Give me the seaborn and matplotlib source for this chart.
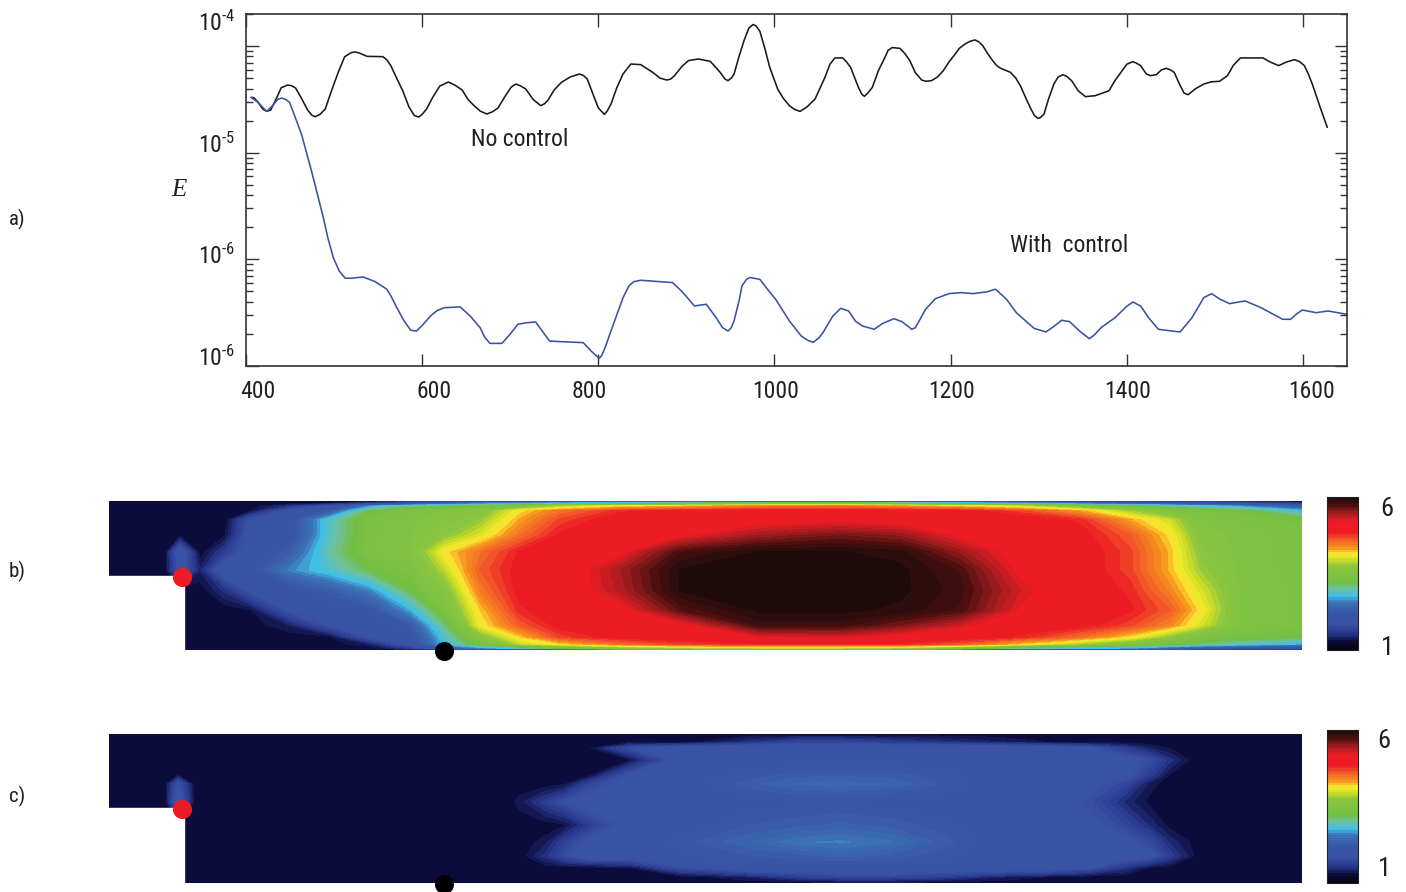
"""
Energy history with and without control, plus the two field maps below it
"""

import numpy as np
import matplotlib
matplotlib.use('Agg')
import matplotlib.pyplot as plt
import seaborn as sns
from matplotlib.cm import ScalarMappable
from matplotlib.colors import LinearSegmentedColormap, Normalize
from matplotlib.patches import Rectangle
from matplotlib.ticker import NullFormatter
from matplotlib.transforms import ScaledTranslation

# panel a: values (time, log10 of E)
no_control = [
    (405.8, -4.481), (409, -4.484), (414, -4.53), (419, -4.59), (423.4, -4.612), (428, -4.60), (434, -4.50),
    (440, -4.39), (447.3, -4.365), (452, -4.372), (456.3, -4.393), (463, -4.49), (470, -4.60), (475, -4.65),
    (478.8, -4.662), (484, -4.64), (490, -4.59), (497, -4.42), (505, -4.24), (512, -4.10), (519.4, -4.061),
    (524, -4.055), (528.4, -4.064), (537.4, -4.096), (555.4, -4.099), (560, -4.13), (564.4, -4.183), (571, -4.30),
    (577.9, -4.418), (585, -4.57), (591, -4.65), (596, -4.665), (600, -4.64), (605, -4.59), (612, -4.48),
    (620, -4.375), (629.7, -4.337), (637, -4.365), (645.5, -4.412), (652, -4.50), (659, -4.559), (666, -4.61),
    (673.4, -4.637), (680, -4.615), (686, -4.581), (695, -4.46), (701, -4.385), (706.3, -4.356), (711, -4.37),
    (717.6, -4.402), (726, -4.50), (734.7, -4.559), (739, -4.54), (742.4, -4.512), (750, -4.41), (758.1, -4.340),
    (768, -4.29), (778.4, -4.262), (783, -4.275), (787.4, -4.309), (793, -4.43), (800, -4.58), (806.8, -4.640),
    (810, -4.61), (814.4, -4.543), (821, -4.39), (828, -4.262), (837, -4.168), (848.2, -4.174), (861.7, -4.246),
    (870, -4.30), (877.5, -4.318), (882, -4.31), (886.5, -4.277), (895, -4.19), (902.3, -4.136), (913.5, -4.121),
    (927.1, -4.143), (938.3, -4.246), (944, -4.31), (947.3, -4.324), (951, -4.30), (954.1, -4.262), (960, -4.09),
    (965.4, -3.949), (971, -3.83), (975.7, -3.798), (979, -3.81), (983.4, -3.861), (989, -4.02), (994.6, -4.199),
    (1003.6, -4.402), (1010, -4.49), (1017, -4.559), (1023, -4.595), (1029.1, -4.612), (1037, -4.57),
    (1046.1, -4.496), (1052, -4.39), (1057.3, -4.293), (1063, -4.17), (1068.5, -4.111), (1077.5, -4.111),
    (1082, -4.15), (1086.4, -4.199), (1095, -4.38), (1099, -4.45), (1102.1, -4.471), (1106, -4.44),
    (1111.1, -4.387), (1118, -4.23), (1124.5, -4.121), (1129, -4.04), (1133.5, -4.014), (1142.4, -4.021),
    (1148, -4.07), (1153.6, -4.136), (1160, -4.25), (1167.1, -4.318), (1172, -4.33), (1178.3, -4.324),
    (1185, -4.29), (1191.7, -4.230), (1198, -4.15), (1205.2, -4.074), (1210, -4.02), (1216.4, -3.980),
    (1222, -3.955), (1227.6, -3.942), (1232, -3.96), (1236.5, -3.996), (1242, -4.07), (1247.7, -4.136),
    (1252, -4.18), (1256.7, -4.208), (1267.9, -4.246), (1274, -4.30), (1279.1, -4.371), (1285, -4.48),
    (1290.3, -4.575), (1295, -4.65), (1299.2, -4.678), (1302, -4.67), (1306, -4.637), (1311, -4.50),
    (1317.2, -4.356), (1322, -4.29), (1327.5, -4.268), (1332, -4.285), (1337.3, -4.324), (1345, -4.42),
    (1353, -4.474), (1364.2, -4.465), (1379.9, -4.418), (1386, -4.33), (1393.3, -4.246), (1400, -4.17),
    (1406.8, -4.146), (1411, -4.16), (1415.7, -4.183), (1422, -4.26), (1426.9, -4.277), (1433.6, -4.268),
    (1439, -4.225), (1444.8, -4.208), (1450, -4.225), (1453.8, -4.246), (1460, -4.36), (1465, -4.44),
    (1469.5, -4.456), (1478, -4.40), (1487.4, -4.356), (1496, -4.335), (1505.3, -4.330), (1514.3, -4.277),
    (1521, -4.18), (1529, -4.111), (1554.6, -4.111), (1563, -4.15), (1572.5, -4.183), (1581, -4.15),
    (1590.4, -4.127), (1596, -4.145), (1601.6, -4.183), (1606, -4.26), (1610.6, -4.356), (1619.6, -4.575),
    (1627.6, -4.762),
]
with_control = [
    (405.8, -4.481), (414, -4.53), (423.4, -4.612), (430, -4.56), (436, -4.50), (440.5, -4.487), (445, -4.50),
    (449.5, -4.528), (456, -4.67), (463, -4.825), (474.3, -5.169), (487.8, -5.608), (493, -5.80), (499.1, -5.983),
    (505.8, -6.108), (512.6, -6.177), (519.4, -6.177), (532.9, -6.165), (546.4, -6.208), (559.9, -6.280),
    (565, -6.35), (571.2, -6.453), (579, -6.57), (586.9, -6.665), (593.7, -6.672), (600, -6.62), (609.5, -6.531),
    (617, -6.48), (625.2, -6.453), (643.2, -6.446), (654.5, -6.531), (665.8, -6.640), (671, -6.73), (677, -6.788),
    (690.6, -6.788), (700, -6.70), (708.6, -6.609), (718, -6.595), (728.8, -6.587), (737, -6.68), (744.6, -6.766),
    (758.1, -6.772), (782.9, -6.781), (791.9, -6.860), (800.9, -6.928), (804, -6.90), (807.7, -6.828),
    (814, -6.68), (821.2, -6.515), (828, -6.36), (834.7, -6.249), (840, -6.21), (848.2, -6.196), (884.3, -6.218),
    (891, -6.27), (897.8, -6.327), (909, -6.437), (915, -6.43), (922.6, -6.421), (933.8, -6.547), (941, -6.64),
    (947.3, -6.672), (951, -6.64), (954.1, -6.578), (960, -6.38), (963, -6.25), (968, -6.19), (972, -6.17),
    (976.6, -6.177), (983.4, -6.187), (992, -6.28), (1001.3, -6.374), (1017, -6.578), (1030.4, -6.719), (1038, -6.76),
    (1043.9, -6.778), (1050, -6.74), (1055.1, -6.687), (1066.3, -6.531), (1075.2, -6.459), (1084.2, -6.484),
    (1092, -6.58), (1099.9, -6.625), (1113.3, -6.656), (1122.3, -6.603), (1135.7, -6.556), (1144.7, -6.584),
    (1155.9, -6.656), (1160, -6.64), (1171.6, -6.468), (1182.8, -6.368), (1198.4, -6.321), (1211.9, -6.312),
    (1225.3, -6.321), (1241, -6.305), (1250.9, -6.280), (1263.4, -6.374), (1274.6, -6.500), (1294.8, -6.647),
    (1308.2, -6.681), (1317, -6.63), (1326.1, -6.571), (1335.1, -6.584), (1346, -6.67), (1357.5, -6.744),
    (1363, -6.71), (1370.9, -6.640), (1386.6, -6.547), (1400, -6.44), (1406.8, -6.400), (1415.7, -6.437),
    (1425, -6.55), (1435.9, -6.656), (1460.5, -6.681), (1474, -6.547), (1487.4, -6.359), (1496.4, -6.321),
    (1505, -6.37), (1516.5, -6.415), (1534.4, -6.390), (1552.4, -6.453), (1577, -6.562), (1586, -6.562),
    (1593, -6.51), (1599.4, -6.475), (1615, -6.500), (1628.5, -6.484), (1649.6, -6.515),
]

x_ticks = [400, 600, 800, 1000, 1200, 1400, 1600]
x_tick_labels = ['400', '600', '800', '1000', '1200', '1400', '1600']
y_ticks = [1e-4, 1e-5, 1e-6, 1e-7]
# the last label really says 10-6 in the source figure
y_tick_labels = [r'$10^{\text{-}4}$', r'$10^{\text{-}5}$', r'$10^{\text{-}6}$', r'$10^{\text{-}6}$']

# panel b: field values, one list per column of the map
n = 1.25
b_x = [109, 165, 180, 200, 225, 250, 290, 330, 370, 410, 445, 480, 520, 560, 620, 680, 760, 840, 900, 960, 1020,
       1080, 1130, 1170, 1200, 1240, 1302]
b_y = [501, 503, 506, 511, 520, 535, 552, 570, 590, 610, 625, 637, 644, 648, 650]
b_columns = [
    [n, n, n, n, n, n, n, n, n, n, n, n, n, n, n],
    [n, n, n, n, n, n, n, n, n, n, n, n, n, n, n],
    [n, n, n, n, n, n, 2.1, 2.0, n, n, n, n, n, n, n],
    [n, n, n, n, n, n, n, 1.4, n, n, n, n, n, n, n],
    [n, n, n, n, n, 1.3, 1.6, 2.1, 1.5, n, n, n, n, n, n],
    [n, n, n, 1.3, 1.9, 2.0, 2.05, 2.1, 1.9, 1.3, n, n, n, n, n],
    [n, n, 1.5, 2.0, 2.1, 2.1, 2.3, 2.6, 2.1, 1.9, 1.4, n, n, n, n],
    [n, 1.3, 1.9, 2.3, 2.9, 2.9, 3.0, 2.85, 2.3, 2.1, 1.9, 1.3, n, n, n],
    [n, 1.5, 2.6, 3.2, 3.4, 3.4, 3.4, 3.2, 2.6, 2.15, 2.1, 1.9, 1.4, n, n],
    [1.3, 1.9, 3.0, 3.4, 3.45, 3.5, 3.5, 3.4, 3.2, 2.7, 2.25, 2.1, 2.0, 1.6, 1.3],
    [1.4, 2.2, 3.1, 3.5, 3.6, 3.7, 4.15, 3.9, 3.6, 3.4, 3.1, 2.85, 2.8, 2.3, 1.3],
    [1.5, 2.4, 3.3, 3.6, 3.75, 4.0, 4.5, 4.6, 4.45, 4.2, 4.1, 3.6, 3.3, 2.6, 1.5],
    [1.6, 2.5, 3.5, 4.15, 4.3, 4.5, 4.85, 4.9, 4.9, 4.8, 4.6, 4.2, 3.9, 2.9, 1.6],
    [1.7, 2.7, 3.8, 4.5, 4.7, 4.85, 4.95, 5.0, 5.0, 4.95, 4.9, 4.7, 4.15, 3.3, 1.7],
    [1.8, 2.8, 4.1, 4.8, 4.95, 5.0, 5.15, 5.45, 5.4, 5.1, 4.95, 4.9, 4.5, 3.6, 1.9],
    [1.8, 3.0, 4.2, 4.9, 5.0, 5.15, 5.75, 5.93, 5.93, 5.7, 5.1, 4.95, 4.7, 3.8, 2.0],
    [1.8, 3.1, 4.4, 4.95, 5.1, 5.45, 5.93, 5.97, 5.97, 5.95, 5.8, 5.2, 4.8, 3.9, 2.0],
    [1.8, 3.2, 4.45, 4.95, 5.15, 5.6, 5.93, 5.97, 5.97, 5.95, 5.8, 5.25, 4.8, 3.9, 2.0],
    [1.7, 3.0, 4.3, 4.95, 5.1, 5.5, 5.88, 5.95, 5.95, 5.9, 5.6, 5.1, 4.8, 3.8, 1.9],
    [1.6, 2.8, 4.15, 4.9, 5.0, 5.15, 5.5, 5.75, 5.8, 5.75, 5.3, 4.95, 4.6, 3.5, 1.8],
    [1.5, 2.6, 3.9, 4.7, 4.95, 5.0, 5.05, 5.15, 5.3, 5.2, 4.95, 4.8, 4.2, 3.0, 1.7],
    [1.4, 2.3, 3.5, 4.3, 4.8, 4.9, 4.95, 4.95, 4.95, 4.95, 4.9, 4.5, 3.8, 2.8, 1.5],
    [1.4, 2.1, 3.3, 3.8, 4.3, 4.6, 4.7, 4.7, 4.8, 4.85, 4.7, 4.15, 3.5, 2.7, 1.4],
    [1.3, 2.0, 3.0, 3.5, 3.95, 4.15, 4.25, 4.25, 4.4, 4.6, 4.4, 3.7, 3.3, 2.4, 1.3],
    [1.3, 1.9, 2.8, 3.4, 3.5, 3.6, 3.7, 3.8, 4.0, 4.15, 4.0, 3.4, 3.1, 2.2, 1.3],
    [n, 1.8, 2.6, 3.3, 3.4, 3.45, 3.45, 3.45, 3.5, 3.5, 3.5, 3.3, 2.9, 2.1, 1.3],
    [n, 1.5, 2.2, 2.8, 3.3, 3.4, 3.4, 3.4, 3.4, 3.4, 3.4, 3.2, 2.7, 1.9, n],
]

# panel c: field values, one list per row of the map
c_x = [109, 165, 178, 195, 505, 520, 545, 565, 590, 630, 680, 750, 800, 840, 890, 940, 1000, 1050, 1090, 1125, 1150,
       1170, 1195, 1210, 1302]
c_y = [734, 742, 748, 760, 775, 784, 802, 825, 842, 856, 868, 877, 883]
c_rows = [
    [n] * 25,
    [n, n, n, n, n, n, n, n, n, n, n, 1.5, 1.7, 1.7, 1.6, 1.5, 1.4, 1.3, n, n, n, n, n, n, n],
    [n, n, n, n, n, n, n, n, 1.3, 1.8, 2.05, 2.1, 2.1, 2.1, 2.1, 2.1, 2.1, 2.05, 1.9, 1.6, 1.4, 1.3, n, n, n],
    [n, n, n, n, n, n, n, n, n, 1.3, 2.0, 2.1, 2.1, 2.1, 2.1, 2.1, 2.1, 2.1, 2.1, 2.0, 1.8, 1.5, n, n, n],
    [n, n, 1.3, n, n, n, n, n, 1.3, 1.9, 2.1, 2.2, 2.3, 2.3, 2.3, 2.2, 2.1, 2.1, 2.1, 1.95, 1.6, 1.3, n, n, n],
    [n, n, 1.9, n, n, n, n, 1.3, 1.7, 2.05, 2.1, 2.3, 2.42, 2.45, 2.4, 2.25, 2.1, 2.1, 2.0, 1.7, 1.35, n, n, n, n],
    [n, n, 2.1, n, n, 1.35, 1.6, 1.85, 2.05, 2.1, 2.1, 2.12, 2.15, 2.15, 2.12, 2.1, 2.1, 2.05, 1.8, 1.45, 1.28, n, n,
     n, n],
    [n, n, n, n, n, n, n, 1.3, 1.6, 2.0, 2.1, 2.25, 2.3, 2.35, 2.3, 2.2, 2.1, 2.1, 2.0, 1.7, 1.45, 1.27, n, n, n],
    [n, n, n, n, n, n, 1.35, 1.65, 1.95, 2.1, 2.2, 2.4, 2.55, 2.58, 2.5, 2.3, 2.1, 2.1, 2.1, 2.0, 1.75, 1.45, 1.27,
     n, n],
    [n, n, n, n, n, n, 1.5, 1.8, 2.05, 2.1, 2.15, 2.25, 2.3, 2.35, 2.3, 2.2, 2.1, 2.1, 2.1, 2.05, 1.95, 1.6, 1.3, n,
     n],
    [n, n, n, n, n, n, n, n, n, 1.3, 1.8, 2.1, 2.1, 2.1, 2.1, 2.1, 2.1, 2.05, 1.85, 1.5, 1.3, n, n, n, n],
    [n, n, n, n, n, n, n, n, n, n, n, 1.4, 1.6, 1.7, 1.7, 1.6, 1.4, 1.3, n, n, n, n, n, n, n],
    [n] * 25,
]

cbar_stops = [0.0, 0.05, 0.105, 0.17, 0.24, 0.31, 0.35, 0.40, 0.44, 0.55, 0.596, 0.63, 0.67, 0.727, 0.77, 0.847,
              0.90, 0.956, 0.985, 1.0]
cbar_colors = ['#050510', '#0b0c3e', '#2b3990', '#3953a4', '#3955a6', '#3c74b6', '#3fbfe8', '#6cc0a0', '#72bf44',
               '#8cc63f', '#d7df23', '#f9ed32', '#f7941d', '#f15a29', '#ed1c24', '#ed1c24', '#a01c1e', '#4a0e0e',
               '#2c0d0d', '#1f0a0a']

W, H = 1406, 892
TEXT = '#231f20'


def add_axes_px(fig, left, top, right, bottom):
    """Axes placed from pixel edges"""
    return fig.add_axes([left / W, 1 - bottom / H, (right - left) / W, (bottom - top) / H])


def put_text(fig, x, y, s, size=17, **kwargs):
    fig.text(x / W, 1 - y / H, s, fontsize=size, color=TEXT, ha='center', va='center', **kwargs)


def draw_map(fig, cmap, norm, x, y, field, top, bottom, notch_y):
    ax = add_axes_px(fig, 109, top, 1302, bottom)
    ax.contourf(x, y, field, levels=np.linspace(1, 6, 65), cmap=cmap, norm=norm, extend='both')
    ax.add_patch(Rectangle((109, notch_y), 75, bottom - notch_y, color='white', zorder=3))
    ax.set_xlim(109, 1302)
    ax.set_ylim(bottom, top)
    ax.axis('off')
    ax.scatter([182], [notch_y + 1], s=190, color='#ed1c24', zorder=5, clip_on=False, linewidths=0)
    ax.scatter([444], [bottom + 1], s=190, color='black', zorder=5, clip_on=False, linewidths=0)
    return ax


def draw_colorbar(fig, cmap, norm, top, bottom, ticks):
    cax = add_axes_px(fig, 1327, top, 1358, bottom)
    cbar = fig.colorbar(ScalarMappable(norm=norm, cmap=cmap), cax=cax)
    cbar.set_ticks(ticks)
    cbar.ax.tick_params(length=2, width=0.8, direction='in', labelright=False, left=True, right=True)
    cbar.outline.set_edgecolor('#222222')
    cbar.outline.set_linewidth(0.8)


sns.set_style('ticks')
plt.rcParams['font.family'] = ['Roboto Condensed', 'Liberation Sans', 'DejaVu Sans']
plt.rcParams['mathtext.fontset'] = 'custom'
plt.rcParams['mathtext.rm'] = 'Roboto Condensed'
plt.rcParams['mathtext.it'] = 'Roboto Condensed'

fig = plt.figure(figsize=(W / 100, H / 100), dpi=100)

# panel a
ax = add_axes_px(fig, 246, 14, 1347, 366)
for series, colour in [(no_control, '#1a1a1a'), (with_control, '#3953a4')]:
    t, log_e = zip(*series)
    sns.lineplot(x=t, y=10.0 ** np.array(log_e), color=colour, linewidth=1.15, estimator=None, sort=False, ax=ax)
ax.set_yscale('log')
ax.set_xlim(400, 1650)
ax.set_ylim(1e-7, 2e-4)
ax.set_xticks(x_ticks, x_tick_labels)
ax.set_yticks(y_ticks, y_tick_labels)
ax.yaxis.set_minor_formatter(NullFormatter())
ax.tick_params(axis='both', which='major', direction='in', length=9, width=1.0, color='#333333',
               top=True, right=True, labelsize=17, labelcolor=TEXT)
ax.tick_params(axis='y', which='minor', direction='in', length=5, width=1.0, color='#333333', left=True, right=True)
ax.tick_params(axis='x', pad=10)
ax.tick_params(axis='y', pad=8)
for side in ax.spines:
    ax.spines[side].set_color('#333333')
    ax.spines[side].set_linewidth(1.2)

# the printed labels sit off their ticks in the source, nudge them in pixels
for label, dx in zip(ax.get_xticklabels(), [12, 12, -9, 1, 1, 1, 9]):
    label.set_transform(label.get_transform() + ScaledTranslation(dx / 100, 0, fig.dpi_scale_trans))
for label, dy in zip(ax.get_yticklabels(), [25, 10, 6, 10]):
    label.set_transform(label.get_transform() + ScaledTranslation(0, dy / 100, fig.dpi_scale_trans))

put_text(fig, 520, 140, 'No control')
put_text(fig, 1069, 245, 'With  control')
put_text(fig, 179, 190, 'E', size=18, family='Liberation Serif', style='italic')

# panels b and c
cmap = LinearSegmentedColormap.from_list('field', list(zip(cbar_stops, cbar_colors)), N=64)
norm = Normalize(1, 6)
draw_map(fig, cmap, norm, b_x, b_y, np.array(b_columns).T, 501, 650, 576)
draw_map(fig, cmap, norm, c_x, c_y, np.array(c_rows), 734, 883, 808)
draw_colorbar(fig, cmap, norm, 497, 650, [])
draw_colorbar(fig, cmap, norm, 730, 883, [1.85])

put_text(fig, 1387, 509, '6', size=19)
put_text(fig, 1387, 648, '1', size=19)
put_text(fig, 1384, 741, '6', size=19)
put_text(fig, 1384, 869, '1', size=19)

put_text(fig, 17, 219, 'a)', size=15)
put_text(fig, 17, 571, 'b)', size=15)
put_text(fig, 17, 796, 'c)', size=15)

fig.savefig('out.png', dpi=100)
